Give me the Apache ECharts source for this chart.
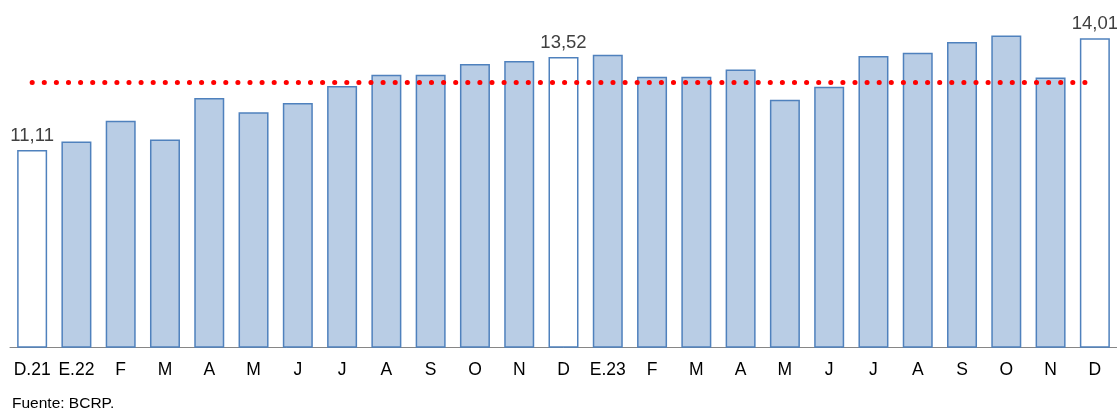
<!DOCTYPE html>
<html>
<head>
<meta charset="utf-8">
<script src="https://cdn.jsdelivr.net/npm/echarts@6/dist/echarts.min.js"></script>
<style>
html,body{margin:0;padding:0;background:#fff;}
#c{width:1117px;height:410px;}
</style>
</head>
<body>
<div id="c"></div>
<script>
const categories = ['D.21','E.22','F','M','A','M','J','J','A','S','O','N','D','E.23','F','M','A','M','J','J','A','S','O','N','D'];
const values = [11.11,11.33,11.87,11.38,12.46,12.09,12.33,12.77,13.06,13.06,13.34,13.42,13.52,13.58,13.01,13.01,13.20,12.41,12.75,13.55,13.63,13.91,14.08,12.99,14.01];
const highlighted = [0, 12, 24];
const averageValue = 12.86;
const footerText = 'Fuente: BCRP.';

const fill = '#B9CDE5';
const border = '#4F81BD';

const barData = values.map((v, i) => {
  const hl = highlighted.includes(i);
  return {
    value: v,
    itemStyle: { color: hl ? '#ffffff' : fill, borderColor: border, borderWidth: 1.5 },
    label: {
      show: hl,
      position: 'top',
      distance: 5,
      color: '#404040',
      fontSize: 18.5,
      fontFamily: 'Liberation Sans, Arial, sans-serif',
      formatter: p => p.value.toFixed(2).replace('.', ',')
    }
  };
});

const chart = echarts.init(document.getElementById('c'), null, { renderer: 'canvas' });
chart.setOption({
  animation: false,
  backgroundColor: '#ffffff',
  grid: { left: 10, right: 0, top: 0, bottom: 63, containLabel: false },
  xAxis: {
    type: 'category',
    data: categories,
    axisLine: { lineStyle: { color: '#868686', width: 1 } },
    axisTick: { show: false },
    axisLabel: {
      color: '#000000',
      fontSize: 17.5,
      fontFamily: 'Liberation Sans, Arial, sans-serif',
      margin: 14,
      interval: 0
    }
  },
  yAxis: {
    type: 'value',
    min: 6,
    max: 15,
    show: false,
    splitLine: { show: false }
  },
  series: [
    {
      type: 'bar',
      data: barData,
      barWidth: 30,
      z: 2
    },
    {
      type: 'line',
      data: categories.map(() => averageValue),
      symbol: 'none',
      z: 3,
      lineStyle: { color: '#FF0000', width: 5, type: [0.1, 12], cap: 'round' }
    }
  ],
  graphic: [
    {
      type: 'text',
      left: 12,
      top: 396,
      style: {
        text: footerText,
        fill: '#000000',
        fontSize: 15.5,
        fontFamily: 'Liberation Sans, Arial, sans-serif'
      }
    }
  ]
});
</script>
</body>
</html>
